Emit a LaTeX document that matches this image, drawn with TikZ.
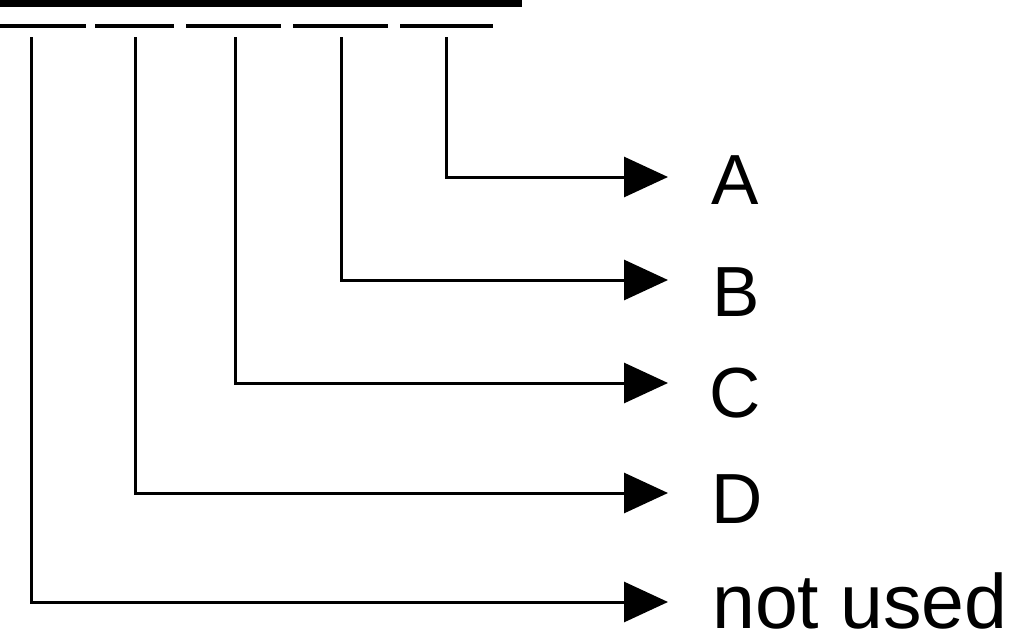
\documentclass[tikz,border=0pt]{standalone}
\usepackage{fontspec}
\setmainfont{Liberation Sans}
\usetikzlibrary{arrows.meta}
\begin{document}
\begin{tikzpicture}[x=1pt,y=-1pt,
  conn/.style={line width=3pt,-{Triangle[length=44pt,width=40pt]}},
  dashseg/.style={line width=4pt},
  lab/.style={inner sep=0pt,anchor=base west,font=\fontsize{71}{80}\selectfont},
  biglab/.style={lab,font=\fontsize{77}{90}\selectfont}]
\useasboundingbox (0,0) rectangle (1023,632);
\fill (-2,-5) rectangle (522,7);
\draw[dashseg] (0,26) -- (86,26);
\draw[dashseg] (95,26) -- (174,26);
\draw[dashseg] (186,26) -- (281,26);
\draw[dashseg] (293,26) -- (388,26);
\draw[dashseg] (400,26) -- (493,26);
\coordinate (tA) at (446,37);
\coordinate (tB) at (341,37);
\coordinate (tC) at (235,37);
\coordinate (tD) at (135,37);
\coordinate (tN) at (31,37);
\coordinate (eA) at (668,177);
\coordinate (eB) at (668,280);
\coordinate (eC) at (668,383);
\coordinate (eD) at (668,493);
\coordinate (eN) at (668,602);
\node[lab] (A) at (711,204) {A};
\node[lab] (B) at (712,316) {B};
\node[lab] (C) at (709,417) {C};
\node[lab] (D) at (711,523) {D};
\node[biglab] (N) at (712,628) {not used};
\draw[conn] (tA) |- (eA);
\draw[conn] (tB) |- (eB);
\draw[conn] (tC) |- (eC);
\draw[conn] (tD) |- (eD);
\draw[conn] (tN) |- (eN);
\end{tikzpicture}
\end{document}
